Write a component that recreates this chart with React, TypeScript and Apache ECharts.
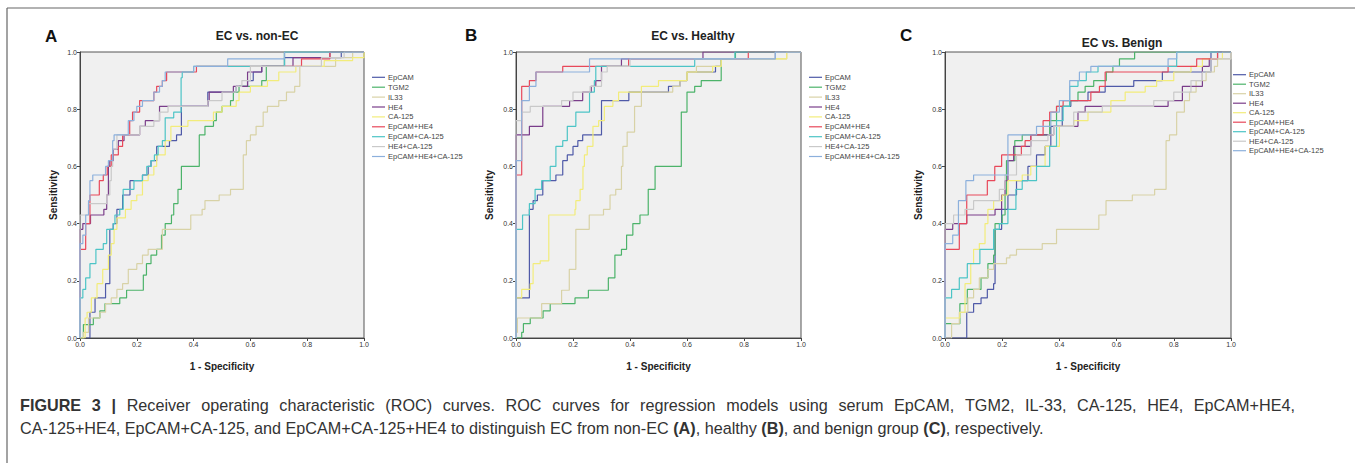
import React, { useEffect, useRef } from "react";
import * as echarts from "echarts";

const NAMES = ["EpCAM", "TGM2", "IL33", "HE4", "CA-125", "EpCAM+HE4", "EpCAM+CA-125", "HE4+CA-125", "EpCAM+HE4+CA-125"];
const COLORS = ["#4f5aa8", "#4cb36a", "#d8d2a6", "#7a3d8a", "#f2ec7a", "#e8485a", "#4cc4c6", "#c9c9c9", "#8cb0dc"];
const TICKS = [0, 0.2, 0.4, 0.6, 0.8, 1.0];
const TITLES = ["EC vs. non-EC", "EC vs. Healthy", "EC vs. Benign"];
const LETTERS = ["A", "B", "C"];

// Panel A: EC vs. non-EC  — points [1 - specificity, sensitivity] where the curve rises
const A_EPCAM = [[0,0],[0.035,0.09],[0.053,0.14],[0.09,0.19],[0.105,0.38],[0.117,0.40],[0.13,0.45],[0.15,0.50],[0.176,0.55],[0.22,0.57],[0.24,0.60],[0.25,0.62],[0.27,0.67],[0.315,0.69],[0.34,0.71],[0.357,0.81],[0.45,0.86],[0.55,0.88],[0.59,0.90],[0.61,0.93],[0.64,0.95],[0.72,0.98],[0.92,1.0],[1,1]];
const A_TGM2 = [[0,0],[0.012,0.047],[0.047,0.07],[0.07,0.095],[0.088,0.12],[0.14,0.14],[0.164,0.167],[0.223,0.22],[0.234,0.26],[0.25,0.29],[0.27,0.31],[0.287,0.36],[0.3,0.40],[0.322,0.43],[0.33,0.47],[0.345,0.52],[0.357,0.60],[0.42,0.71],[0.44,0.74],[0.47,0.76],[0.48,0.79],[0.5,0.81],[0.53,0.83],[0.54,0.86],[0.56,0.88],[0.64,0.90],[0.656,0.95],[0.72,1.0],[1,1]];
const A_IL33 = [[0,0],[0.012,0.02],[0.03,0.07],[0.07,0.09],[0.09,0.12],[0.11,0.14],[0.13,0.17],[0.15,0.19],[0.17,0.24],[0.2,0.26],[0.22,0.29],[0.24,0.31],[0.29,0.38],[0.39,0.43],[0.43,0.45],[0.44,0.48],[0.49,0.50],[0.53,0.52],[0.575,0.64],[0.586,0.69],[0.6,0.71],[0.62,0.74],[0.645,0.79],[0.66,0.81],[0.7,0.83],[0.727,0.86],[0.756,0.88],[0.774,0.95],[0.9,0.98],[0.96,1.0],[1,1]];
const A_HE4 = [[0,0],[0,0.38],[0.01,0.40],[0.037,0.43],[0.084,0.45],[0.094,0.50],[0.1,0.60],[0.105,0.62],[0.117,0.66],[0.135,0.69],[0.155,0.71],[0.21,0.74],[0.23,0.76],[0.28,0.81],[0.45,0.83],[0.455,0.86],[0.54,0.88],[0.59,0.93],[0.64,0.95],[0.75,0.98],[0.88,1.0],[1,1]];
const A_CA125 = [[0,0],[0.018,0.07],[0.025,0.09],[0.04,0.14],[0.06,0.19],[0.08,0.24],[0.1,0.29],[0.11,0.33],[0.12,0.38],[0.13,0.42],[0.16,0.45],[0.18,0.48],[0.2,0.50],[0.22,0.55],[0.24,0.57],[0.26,0.60],[0.27,0.64],[0.3,0.69],[0.32,0.74],[0.38,0.76],[0.47,0.79],[0.5,0.81],[0.55,0.83],[0.56,0.86],[0.6,0.88],[0.66,0.90],[0.7,0.93],[0.76,0.95],[0.86,0.97],[0.96,0.98],[1,1]];
const A_EPHE4 = [[0,0],[0,0.31],[0.02,0.40],[0.035,0.50],[0.068,0.55],[0.082,0.57],[0.096,0.60],[0.11,0.64],[0.135,0.67],[0.15,0.71],[0.175,0.76],[0.185,0.79],[0.21,0.83],[0.26,0.86],[0.27,0.88],[0.29,0.90],[0.305,0.93],[0.41,0.95],[0.78,0.976],[0.88,1.0],[1,1]];
const A_EPCA125 = [[0,0],[0,0.14],[0.01,0.17],[0.02,0.21],[0.035,0.26],[0.056,0.31],[0.082,0.33],[0.094,0.38],[0.117,0.40],[0.123,0.43],[0.14,0.45],[0.152,0.52],[0.19,0.55],[0.22,0.57],[0.235,0.60],[0.25,0.62],[0.262,0.64],[0.275,0.67],[0.29,0.69],[0.3,0.77],[0.33,0.79],[0.356,0.91],[0.36,0.93],[0.40,0.95],[0.72,1.0],[1,1]];
const A_HE4CA125 = [[0,0],[0,0.43],[0.03,0.47],[0.094,0.50],[0.105,0.55],[0.11,0.60],[0.115,0.66],[0.13,0.71],[0.21,0.74],[0.26,0.76],[0.28,0.79],[0.31,0.81],[0.45,0.83],[0.5,0.86],[0.55,0.88],[0.57,0.90],[0.6,0.95],[0.85,0.98],[0.93,1.0],[1,1]];
const A_EPHE4CA125 = [[0,0],[0,0.33],[0.01,0.36],[0.02,0.43],[0.03,0.48],[0.035,0.55],[0.045,0.57],[0.09,0.60],[0.1,0.62],[0.115,0.69],[0.12,0.71],[0.17,0.76],[0.19,0.79],[0.2,0.81],[0.22,0.83],[0.26,0.86],[0.28,0.88],[0.29,0.90],[0.3,0.93],[0.4,0.95],[0.52,0.976],[0.72,1.0],[1,1]];

// Panel B: EC vs. Healthy
const B_EPCAM = [[0,0],[0,0.14],[0.047,0.45],[0.06,0.48],[0.075,0.50],[0.094,0.55],[0.14,0.57],[0.164,0.62],[0.18,0.64],[0.2,0.67],[0.217,0.69],[0.234,0.71],[0.3,0.83],[0.396,0.86],[0.535,0.88],[0.575,0.90],[0.6,0.93],[0.7,0.95],[0.72,0.976],[0.91,1.0],[1,1]];
const B_TGM2 = [[0,0],[0.02,0.02],[0.026,0.05],[0.05,0.07],[0.095,0.095],[0.12,0.12],[0.207,0.14],[0.254,0.167],[0.324,0.21],[0.347,0.29],[0.37,0.31],[0.388,0.36],[0.41,0.40],[0.435,0.43],[0.464,0.52],[0.488,0.60],[0.58,0.79],[0.6,0.86],[0.627,0.88],[0.65,0.90],[0.72,0.976],[0.77,1.0],[1,1]];
const B_IL33 = [[0,0],[0,0.02],[0.005,0.07],[0.09,0.12],[0.16,0.167],[0.187,0.24],[0.21,0.38],[0.257,0.43],[0.307,0.45],[0.33,0.50],[0.35,0.52],[0.37,0.60],[0.375,0.67],[0.39,0.72],[0.416,0.81],[0.44,0.86],[0.55,0.88],[0.575,0.90],[0.6,0.93],[0.633,0.95],[0.72,0.976],[0.95,1.0],[1,1]];
const B_HE4 = [[0,0],[0,0.71],[0.047,0.74],[0.094,0.81],[0.188,0.83],[0.234,0.86],[0.264,0.88],[0.28,0.90],[0.3,0.95],[0.37,0.976],[0.656,1.0],[1,1]];
const B_CA125 = [[0,0],[0,0.14],[0.02,0.17],[0.05,0.19],[0.06,0.26],[0.085,0.27],[0.115,0.43],[0.207,0.45],[0.21,0.48],[0.225,0.52],[0.235,0.60],[0.24,0.64],[0.25,0.67],[0.27,0.74],[0.29,0.76],[0.31,0.81],[0.34,0.83],[0.36,0.86],[0.44,0.88],[0.5,0.90],[0.6,0.93],[0.69,0.95],[0.72,0.976],[0.95,1.0],[1,1]];
const B_EPHE4 = [[0,0],[0,0.57],[0.02,0.88],[0.047,0.90],[0.07,0.93],[0.164,0.95],[0.395,0.976],[0.815,1.0],[1,1]];
const B_EPCA125 = [[0,0],[0,0.38],[0.023,0.43],[0.047,0.47],[0.067,0.52],[0.09,0.55],[0.12,0.60],[0.14,0.67],[0.164,0.69],[0.18,0.74],[0.21,0.79],[0.258,0.86],[0.275,0.90],[0.28,0.95],[0.627,0.976],[0.768,1.0],[1,1]];
const B_HE4CA125 = [[0,0],[0,0.76],[0.02,0.79],[0.05,0.81],[0.16,0.83],[0.2,0.86],[0.26,0.88],[0.3,0.93],[0.32,0.95],[0.4,0.976],[0.91,1.0],[1,1]];
const B_EPHE4CA125 = [[0,0],[0,0.62],[0.02,0.83],[0.047,0.88],[0.07,0.93],[0.258,0.976],[0.91,1.0],[1,1]];

// Panel C: EC vs. Benign
const C_EPCAM = [[0,0],[0.076,0.09],[0.1,0.12],[0.126,0.14],[0.148,0.17],[0.17,0.19],[0.175,0.38],[0.198,0.45],[0.22,0.50],[0.25,0.55],[0.29,0.60],[0.32,0.64],[0.35,0.67],[0.37,0.74],[0.41,0.81],[0.44,0.83],[0.5,0.86],[0.56,0.88],[0.66,0.90],[0.76,0.93],[0.93,1.0],[1,1]];
const C_TGM2 = [[0,0],[0,0.05],[0.052,0.12],[0.078,0.17],[0.126,0.21],[0.15,0.26],[0.17,0.29],[0.175,0.40],[0.2,0.43],[0.21,0.50],[0.215,0.62],[0.244,0.69],[0.27,0.71],[0.366,0.76],[0.39,0.81],[0.436,0.83],[0.465,0.86],[0.49,0.88],[0.52,0.90],[0.564,0.93],[0.587,0.95],[0.61,0.976],[0.663,1.0],[1,1]];
const C_IL33 = [[0,0],[0.023,0.05],[0.05,0.09],[0.08,0.14],[0.1,0.17],[0.12,0.21],[0.15,0.24],[0.17,0.26],[0.215,0.28],[0.227,0.29],[0.25,0.31],[0.34,0.33],[0.39,0.38],[0.538,0.43],[0.563,0.48],[0.655,0.50],[0.733,0.52],[0.773,0.69],[0.785,0.71],[0.81,0.79],[0.837,0.83],[0.855,0.86],[0.878,0.90],[0.913,0.93],[0.942,0.95],[0.953,0.976],[1,1]];
const C_HE4 = [[0,0],[0,0.38],[0.027,0.40],[0.076,0.43],[0.175,0.45],[0.198,0.50],[0.21,0.55],[0.22,0.62],[0.24,0.67],[0.3,0.71],[0.38,0.74],[0.465,0.79],[0.49,0.81],[0.78,0.83],[0.83,0.88],[0.9,0.95],[0.924,0.976],[0.953,1.0],[1,1]];
const C_CA125 = [[0,0],[0,0.07],[0.052,0.09],[0.07,0.19],[0.09,0.26],[0.1,0.31],[0.12,0.33],[0.14,0.40],[0.15,0.45],[0.17,0.48],[0.2,0.50],[0.22,0.55],[0.27,0.57],[0.3,0.60],[0.35,0.67],[0.4,0.74],[0.45,0.76],[0.5,0.79],[0.58,0.83],[0.63,0.86],[0.7,0.88],[0.74,0.90],[0.8,0.93],[0.86,0.95],[0.9,0.976],[0.97,1.0],[1,1]];
const C_EPHE4 = [[0,0],[0,0.31],[0.05,0.40],[0.076,0.50],[0.148,0.55],[0.174,0.60],[0.198,0.64],[0.267,0.67],[0.28,0.69],[0.3,0.71],[0.343,0.76],[0.366,0.79],[0.39,0.81],[0.413,0.83],[0.51,0.86],[0.54,0.88],[0.56,0.93],[0.78,0.95],[0.88,0.976],[0.953,1.0],[1,1]];
const C_EPCA125 = [[0,0],[0,0.14],[0.023,0.17],[0.05,0.21],[0.078,0.26],[0.122,0.31],[0.17,0.38],[0.19,0.40],[0.22,0.45],[0.248,0.52],[0.27,0.55],[0.32,0.60],[0.366,0.67],[0.39,0.76],[0.413,0.81],[0.436,0.88],[0.465,0.90],[0.494,0.93],[0.535,0.95],[0.81,1.0],[1,1]];
const C_HE4CA125 = [[0,0],[0,0.40],[0.03,0.43],[0.07,0.45],[0.1,0.48],[0.19,0.52],[0.21,0.57],[0.25,0.64],[0.3,0.69],[0.36,0.71],[0.38,0.74],[0.45,0.79],[0.55,0.81],[0.73,0.83],[0.8,0.86],[0.86,0.90],[0.9,0.93],[0.93,0.976],[1,1]];
const C_EPHE4CA125 = [[0,0],[0,0.33],[0.027,0.36],[0.047,0.48],[0.073,0.55],[0.1,0.57],[0.22,0.71],[0.32,0.74],[0.37,0.79],[0.4,0.83],[0.436,0.90],[0.47,0.93],[0.51,0.95],[0.78,0.976],[0.81,1.0],[1,1]];

const PANEL_A = [A_EPCAM, A_TGM2, A_IL33, A_HE4, A_CA125, A_EPHE4, A_EPCA125, A_HE4CA125, A_EPHE4CA125];
const PANEL_B = [B_EPCAM, B_TGM2, B_IL33, B_HE4, B_CA125, B_EPHE4, B_EPCA125, B_HE4CA125, B_EPHE4CA125];
const PANEL_C = [C_EPCAM, C_TGM2, C_IL33, C_HE4, C_CA125, C_EPHE4, C_EPCA125, C_HE4CA125, C_EPHE4CA125];

const CAPTION_1_BOLD = "FIGURE 3 |";
const CAPTION_1 = "Receiver operating characteristic (ROC) curves. ROC curves for regression models using serum EpCAM, TGM2, IL-33, CA-125, HE4, EpCAM+HE4,";
const CAPTION_2 = "CA-125+HE4, EpCAM+CA-125, and EpCAM+CA-125+HE4 to distinguish EC from non-EC {b|(A)}, healthy {b|(B)}, and benign group {b|(C)}, respectively.";

const FONT_NAME = "Liberation Sans";
const FONT = "Liberation Sans, Arial, sans-serif";
const CAP_SIZE = 16.2;

export default function App() {
  const ref = useRef<HTMLDivElement>(null);
  useEffect(() => {
    if (!ref.current) return;
    const chart = echarts.init(ref.current, null, { renderer: "svg" });
    const panels = [PANEL_A, PANEL_B, PANEL_C];
    const gridDefs = [
      { left: 80, top: 52, width: 284, height: 286 },
      { left: 516, top: 52, width: 285, height: 286 },
      { left: 945, top: 52, width: 286, height: 286 },
    ];
    const legendDefs = [
      { left: 372, top: 73.3, gap: 1.9 },
      { left: 809, top: 73.3, gap: 1.9 },
      { left: 1233, top: 70.7, gap: 1.5 },
    ];
    const titleDefs = [
      { x: 257, y: 36 },
      { x: 693, y: 36 },
      { x: 1122, y: 43 },
    ];
    const letterDefs = [
      { x: 45, y: 36 },
      { x: 465, y: 35 },
      { x: 900, y: 35 },
    ];
    const axisCommon = {
      type: "value",
      min: 0,
      max: 1,
      interval: 0.2,
      axisLine: { show: true, lineStyle: { color: "#444", width: 1 } },
      axisTick: { show: true, length: 3, lineStyle: { color: "#444" } },
      splitLine: { show: false },
      axisLabel: {
        fontSize: 7,
        color: "#333",
        fontFamily: FONT,
        margin: 3,
        formatter: (v: number) => (TICKS.indexOf(Math.round(v * 10) / 10) >= 0 ? v.toFixed(1) : ""),
      },
      nameTextStyle: { fontSize: 10, fontWeight: "bold", color: "#222", fontFamily: FONT },
    };
    const grid = gridDefs.map((g) => ({
      ...g,
      show: true,
      backgroundColor: "#f0f0f0",
      borderColor: "#555",
      borderWidth: 1,
      containLabel: false,
    }));
    const xAxis = gridDefs.map((_, i) => ({
      ...axisCommon,
      gridIndex: i,
      name: "1 - Specificity",
      nameLocation: "middle",
      nameGap: 23,
    }));
    const yAxis = gridDefs.map((_, i) => ({
      ...axisCommon,
      gridIndex: i,
      name: "Sensitivity",
      nameLocation: "middle",
      nameGap: 22,
    }));
    const series: any[] = [];
    panels.forEach((panel, pi) => {
      panel.forEach((data, si) => {
        series.push({
          type: "line",
          name: NAMES[si],
          xAxisIndex: pi,
          yAxisIndex: pi,
          data,
          step: "end",
          symbol: "none",
          showSymbol: false,
          lineStyle: { color: COLORS[si], width: 1.2 },
          itemStyle: { color: COLORS[si] },
          z: 2 + si,
        });
      });
    });
    const legend = legendDefs.map((l) => ({
      orient: "vertical",
      left: l.left,
      top: l.top,
      icon: "rect",
      itemWidth: 13,
      itemHeight: 1.2,
      itemGap: l.gap,
      padding: 0,
      selectedMode: false,
      data: NAMES,
      textStyle: { fontSize: 7.5, lineHeight: 8, color: "#444", fontFamily: FONT, padding: [0, 0, 0, -2] },
    }));
    const graphic: any[] = [
      { type: "line", shape: { x1: 7, y1: 8, x2: 1355, y2: 8 }, style: { stroke: "#666", lineWidth: 1.2 } },
      { type: "line", shape: { x1: 7, y1: 8, x2: 7, y2: 463 }, style: { stroke: "#666", lineWidth: 1.2 } },
    ];
    titleDefs.forEach((t, i) => {
      graphic.push({
        type: "text",
        x: t.x,
        y: t.y,
        style: { text: TITLES[i], fontSize: 12, fontWeight: "bold", fill: "#222", fontFamily: FONT, textAlign: "center", textVerticalAlign: "middle" },
      });
    });
    letterDefs.forEach((t, i) => {
      graphic.push({
        type: "text",
        x: t.x,
        y: t.y,
        style: { text: LETTERS[i], fontSize: 17, fontWeight: "bold", fill: "#111", fontFamily: FONT, textAlign: "left", textVerticalAlign: "middle" },
      });
    });

    // Caption line 1 is justified between startX and endX
    const canvas = document.createElement("canvas");
    const ctx = canvas.getContext("2d")!;
    const words = [
      ...CAPTION_1_BOLD.split(" ").map((w) => ({ w, b: true })),
      ...CAPTION_1.split(" ").map((w) => ({ w, b: false })),
    ];
    const widths = words.map(({ w, b }) => {
      ctx.font = `${b ? "bold " : ""}${CAP_SIZE}px "${FONT_NAME}"`;
      return ctx.measureText(w).width;
    });
    const startX = 20;
    const endX = 1295;
    const totalW = widths.reduce((a, c) => a + c, 0);
    const gapW = (endX - startX - totalW) / (words.length - 1);
    let cx = startX;
    words.forEach(({ w, b }, i) => {
      graphic.push({
        type: "text",
        x: cx,
        y: 405,
        style: {
          text: w,
          fontSize: CAP_SIZE,
          fontWeight: b ? "bold" : "normal",
          fill: "#333",
          fontFamily: FONT,
          textAlign: "left",
          textVerticalAlign: "middle",
        },
      });
      cx += widths[i] + gapW;
    });
    graphic.push({
      type: "text",
      x: startX,
      y: 428,
      style: {
        text: CAPTION_2,
        fontSize: CAP_SIZE,
        fill: "#333",
        fontFamily: FONT,
        textAlign: "left",
        textVerticalAlign: "middle",
        rich: { b: { fontWeight: "bold", fontSize: CAP_SIZE, fill: "#333", fontFamily: FONT } },
      },
    });
    chart.setOption({
      animation: false,
      backgroundColor: "#ffffff",
      grid,
      xAxis,
      yAxis,
      legend,
      series,
      graphic,
    });
    return () => chart.dispose();
  }, []);
  return <div ref={ref} style={{ position: "fixed", left: 0, top: 0, width: 1355, height: 463 }} />;
}
